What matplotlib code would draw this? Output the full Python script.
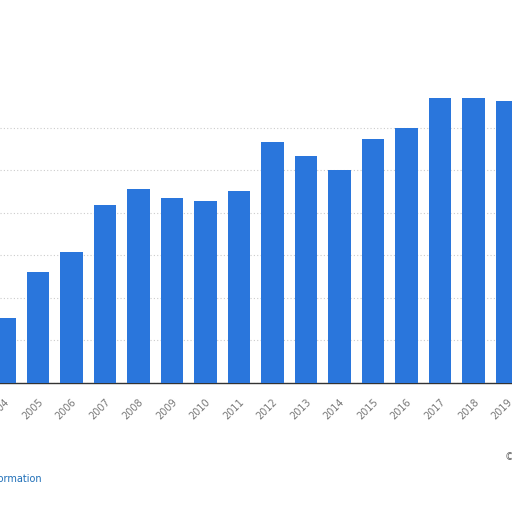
import matplotlib
matplotlib.use('Agg')
import matplotlib.pyplot as plt

# yearly values (one grid step = 1 unit)
years = [2004, 2005, 2006, 2007, 2008, 2009, 2010, 2011,
         2012, 2013, 2014, 2015, 2016, 2017, 2018, 2019]
values = [1.53, 2.61, 3.08, 4.19, 4.56, 4.35, 4.28, 4.52,
          5.67, 5.34, 5.01, 5.74, 6.00, 6.71, 6.71, 6.64]
year_labels = [str(y) for y in years]

bar_color = '#2a76dc'

fig = plt.figure(figsize=(5.12, 5.12), dpi=100)
# the chart is cropped: axes run past both edges of the picture
ax = fig.add_axes([0.0, 0.252, 1.0, 0.581])

ax.bar(years, values, width=0.67, color=bar_color, zorder=3)

ax.set_xlim(2003.866, 2019.149)
ax.set_ylim(0, 7)
ax.set_yticks(range(0, 7))
ax.set_yticklabels([])
ax.tick_params(axis='y', length=0)
ax.yaxis.grid(True, linestyle=(0, (1, 2)), color='#cccccc', linewidth=0.8, zorder=0)

ax.set_xticks(years)
ax.set_xticklabels(year_labels, rotation=45, ha='right', va='top',
                   rotation_mode='anchor', fontsize=7, color='#777777')
ax.tick_params(axis='x', length=0, pad=10)

for side in ['top', 'left', 'right']:
    ax.spines[side].set_visible(False)
ax.spines['bottom'].set_color('#333333')
ax.spines['bottom'].set_linewidth(1.0)

# footer texts, cut off by the picture edges like the reference
fig.text(42 / 512, 1 - 479 / 512, 'Additional Information', ha='right', va='center',
         fontsize=7, color='#1f6fb8')
fig.text(505 / 512, 1 - 457 / 512, '© Statista 2021', ha='left', va='center',
         fontsize=7, color='#666666')

fig.savefig('out.png', dpi=100)
